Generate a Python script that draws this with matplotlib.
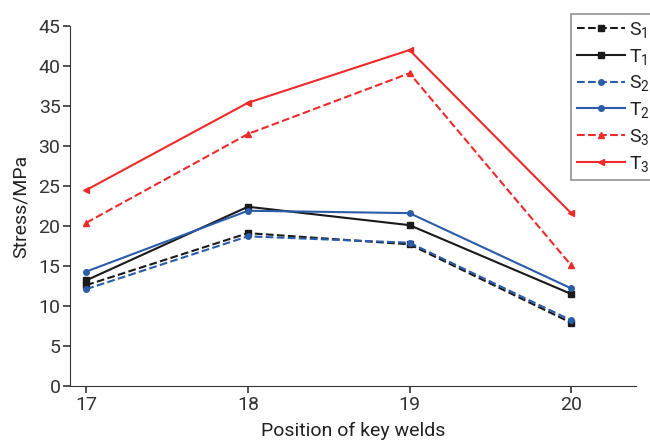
import matplotlib.pyplot as plt
import numpy as np

# position of key welds
welds = [17, 18, 19, 20]

# stress values (MPa)
S1 = [12.6, 19.1, 17.7, 7.9]
T1 = [13.2, 22.4, 20.1, 11.5]
S2 = [12.1, 18.7, 17.9, 8.2]
T2 = [14.3, 21.9, 21.6, 12.2]
S3 = [20.4, 31.5, 39.1, 15.1]
T3 = [24.5, 35.4, 42.0, 21.6]

black = '#1a1a1a'
blue = '#2a5caa'
red = '#ee2a2a'

plt.rcParams['font.family'] = ['Roboto', 'DejaVu Sans']

fig = plt.figure(figsize=(6.5, 4.41), dpi=100)
ax = fig.add_axes([0.108, 0.125, 0.870, 0.816])

ax.plot(welds, S1, color=black, ls='--', marker='s', ms=4, lw=1.5, label='$\\mathregular{S_1}$')
ax.plot(welds, T1, color=black, ls='-', marker='s', ms=4, lw=1.5, label='$\\mathregular{T_1}$')
ax.plot(welds, S2, color=blue, ls='--', marker='o', ms=4, lw=1.5, label='$\\mathregular{S_2}$')
ax.plot(welds, T2, color=blue, ls='-', marker='o', ms=4, lw=1.5, label='$\\mathregular{T_2}$')
ax.plot(welds, S3, color=red, ls='--', marker='^', ms=4, lw=1.5, label='$\\mathregular{S_3}$')
ax.plot(welds, T3, color=red, ls='-', marker='<', ms=4, lw=1.5, label='$\\mathregular{T_3}$')

ax.set_xlim(16.9, 20.4)
ax.set_ylim(0, 45)
ax.set_xticks(welds)
ax.set_yticks(np.arange(0, 46, 5))
ax.spines['top'].set_visible(False)
ax.spines['right'].set_visible(False)
ax.spines['left'].set_color('#333333')
ax.spines['bottom'].set_color('#333333')
ax.tick_params(labelsize=14, colors='#333333', length=5, width=1.2, pad=2)

ax.set_ylabel('Stress/MPa', fontsize=14, labelpad=6, color='#222222')
ax.set_xlabel('Position of key welds', fontsize=14, labelpad=6, color='#222222')

leg = ax.legend(loc='upper left', bbox_to_anchor=(571 / 650, 1 - 14 / 441),
                bbox_transform=fig.transFigure, fontsize=14, frameon=True,
                fancybox=False, edgecolor='#777777', handlelength=2.5,
                handletextpad=0.2, labelspacing=0.35, borderpad=0.3,
                borderaxespad=0)
leg.get_frame().set_linewidth(1.2)
for t in leg.get_texts():
    t.set_color('#222222')

fig.savefig('out.png', dpi=100)
